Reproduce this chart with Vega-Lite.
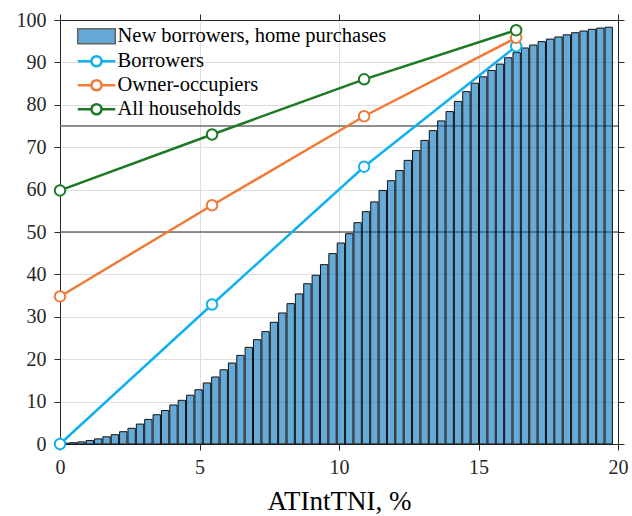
{
  "$schema": "https://vega.github.io/schema/vega-lite/v6.json",
  "autosize": {"type": "none"},
  "width": 558,
  "height": 424,
  "padding": {"left": 60, "top": 20, "right": 14, "bottom": 72},
  "background": "white",
  "config": {
    "view": {"stroke": "#262626", "strokeWidth": 1},
    "axis": {
      "labelFont": "Liberation Serif",
      "titleFont": "Liberation Serif",
      "labelFontSize": 20,
      "labelColor": "#262626",
      "domainColor": "#262626",
      "tickColor": "#262626",
      "tickSize": 6,
      "gridColor": "#dedede",
      "gridWidth": 1
    },
    "legend": {
      "orient": "none", "title": null, "padding": 0,
      "labelFont": "Liberation Serif", "labelFontSize": 20.5, "labelColor": "black", "labelLimit": 400,
      "symbolSize": 225, "labelOffset": 22, "rowPadding": 3
    }
  },
  "resolve": {"axis": {"x": "independent", "y": "independent"}},
  "layer": [
    {
      "data": {"values": [{"ref": 50}, {"ref": 75}]},
      "mark": {"type": "rule", "color": "#6a6a6a", "strokeWidth": 1.3},
      "encoding": {
        "y": {"field": "ref", "type": "quantitative", "axis": null, "scale": {"domain": [0, 100], "nice": false}}
      }
    },
    {
      "data": {"values": [
        {"lo": 0.0, "hi": 0.3, "pct": 0.2, "series": "New borrowers, home purchases"},
        {"lo": 0.3, "hi": 0.6, "pct": 0.3, "series": "New borrowers, home purchases"},
        {"lo": 0.6, "hi": 0.9, "pct": 0.5, "series": "New borrowers, home purchases"},
        {"lo": 0.9, "hi": 1.2, "pct": 0.8, "series": "New borrowers, home purchases"},
        {"lo": 1.2, "hi": 1.5, "pct": 1.2, "series": "New borrowers, home purchases"},
        {"lo": 1.5, "hi": 1.8, "pct": 1.7, "series": "New borrowers, home purchases"},
        {"lo": 1.8, "hi": 2.1, "pct": 2.2, "series": "New borrowers, home purchases"},
        {"lo": 2.1, "hi": 2.4, "pct": 2.9, "series": "New borrowers, home purchases"},
        {"lo": 2.4, "hi": 2.7, "pct": 3.7, "series": "New borrowers, home purchases"},
        {"lo": 2.7, "hi": 3.0, "pct": 4.7, "series": "New borrowers, home purchases"},
        {"lo": 3.0, "hi": 3.3, "pct": 5.8, "series": "New borrowers, home purchases"},
        {"lo": 3.3, "hi": 3.6, "pct": 6.9, "series": "New borrowers, home purchases"},
        {"lo": 3.6, "hi": 3.9, "pct": 7.9, "series": "New borrowers, home purchases"},
        {"lo": 3.9, "hi": 4.2, "pct": 9.2, "series": "New borrowers, home purchases"},
        {"lo": 4.2, "hi": 4.5, "pct": 10.3, "series": "New borrowers, home purchases"},
        {"lo": 4.5, "hi": 4.8, "pct": 11.5, "series": "New borrowers, home purchases"},
        {"lo": 4.8, "hi": 5.1, "pct": 12.8, "series": "New borrowers, home purchases"},
        {"lo": 5.1, "hi": 5.4, "pct": 14.4, "series": "New borrowers, home purchases"},
        {"lo": 5.4, "hi": 5.7, "pct": 15.8, "series": "New borrowers, home purchases"},
        {"lo": 5.7, "hi": 6.0, "pct": 17.5, "series": "New borrowers, home purchases"},
        {"lo": 6.0, "hi": 6.3, "pct": 19.1, "series": "New borrowers, home purchases"},
        {"lo": 6.3, "hi": 6.6, "pct": 20.9, "series": "New borrowers, home purchases"},
        {"lo": 6.6, "hi": 6.9, "pct": 22.8, "series": "New borrowers, home purchases"},
        {"lo": 6.9, "hi": 7.2, "pct": 24.6, "series": "New borrowers, home purchases"},
        {"lo": 7.2, "hi": 7.5, "pct": 26.5, "series": "New borrowers, home purchases"},
        {"lo": 7.5, "hi": 7.8, "pct": 28.7, "series": "New borrowers, home purchases"},
        {"lo": 7.8, "hi": 8.1, "pct": 30.9, "series": "New borrowers, home purchases"},
        {"lo": 8.1, "hi": 8.4, "pct": 33.1, "series": "New borrowers, home purchases"},
        {"lo": 8.4, "hi": 8.7, "pct": 35.4, "series": "New borrowers, home purchases"},
        {"lo": 8.7, "hi": 9.0, "pct": 37.8, "series": "New borrowers, home purchases"},
        {"lo": 9.0, "hi": 9.3, "pct": 39.8, "series": "New borrowers, home purchases"},
        {"lo": 9.3, "hi": 9.6, "pct": 42.3, "series": "New borrowers, home purchases"},
        {"lo": 9.6, "hi": 9.9, "pct": 44.9, "series": "New borrowers, home purchases"},
        {"lo": 9.9, "hi": 10.2, "pct": 47.4, "series": "New borrowers, home purchases"},
        {"lo": 10.2, "hi": 10.5, "pct": 49.6, "series": "New borrowers, home purchases"},
        {"lo": 10.5, "hi": 10.8, "pct": 52.2, "series": "New borrowers, home purchases"},
        {"lo": 10.8, "hi": 11.1, "pct": 54.8, "series": "New borrowers, home purchases"},
        {"lo": 11.1, "hi": 11.4, "pct": 57.1, "series": "New borrowers, home purchases"},
        {"lo": 11.4, "hi": 11.7, "pct": 59.8, "series": "New borrowers, home purchases"},
        {"lo": 11.7, "hi": 12.0, "pct": 62.1, "series": "New borrowers, home purchases"},
        {"lo": 12.0, "hi": 12.3, "pct": 64.5, "series": "New borrowers, home purchases"},
        {"lo": 12.3, "hi": 12.6, "pct": 66.9, "series": "New borrowers, home purchases"},
        {"lo": 12.6, "hi": 12.9, "pct": 69.2, "series": "New borrowers, home purchases"},
        {"lo": 12.9, "hi": 13.2, "pct": 71.6, "series": "New borrowers, home purchases"},
        {"lo": 13.2, "hi": 13.5, "pct": 73.9, "series": "New borrowers, home purchases"},
        {"lo": 13.5, "hi": 13.8, "pct": 76.2, "series": "New borrowers, home purchases"},
        {"lo": 13.8, "hi": 14.1, "pct": 78.4, "series": "New borrowers, home purchases"},
        {"lo": 14.1, "hi": 14.4, "pct": 80.8, "series": "New borrowers, home purchases"},
        {"lo": 14.4, "hi": 14.7, "pct": 83.1, "series": "New borrowers, home purchases"},
        {"lo": 14.7, "hi": 15.0, "pct": 85.1, "series": "New borrowers, home purchases"},
        {"lo": 15.0, "hi": 15.3, "pct": 86.6, "series": "New borrowers, home purchases"},
        {"lo": 15.3, "hi": 15.6, "pct": 88.1, "series": "New borrowers, home purchases"},
        {"lo": 15.6, "hi": 15.9, "pct": 89.6, "series": "New borrowers, home purchases"},
        {"lo": 15.9, "hi": 16.2, "pct": 91.1, "series": "New borrowers, home purchases"},
        {"lo": 16.2, "hi": 16.5, "pct": 92.3, "series": "New borrowers, home purchases"},
        {"lo": 16.5, "hi": 16.8, "pct": 93.4, "series": "New borrowers, home purchases"},
        {"lo": 16.8, "hi": 17.1, "pct": 94.1, "series": "New borrowers, home purchases"},
        {"lo": 17.1, "hi": 17.4, "pct": 94.9, "series": "New borrowers, home purchases"},
        {"lo": 17.4, "hi": 17.7, "pct": 95.5, "series": "New borrowers, home purchases"},
        {"lo": 17.7, "hi": 18.0, "pct": 96.0, "series": "New borrowers, home purchases"},
        {"lo": 18.0, "hi": 18.3, "pct": 96.5, "series": "New borrowers, home purchases"},
        {"lo": 18.3, "hi": 18.6, "pct": 97.0, "series": "New borrowers, home purchases"},
        {"lo": 18.6, "hi": 18.9, "pct": 97.4, "series": "New borrowers, home purchases"},
        {"lo": 18.9, "hi": 19.2, "pct": 97.8, "series": "New borrowers, home purchases"},
        {"lo": 19.2, "hi": 19.5, "pct": 98.1, "series": "New borrowers, home purchases"},
        {"lo": 19.5, "hi": 19.8, "pct": 98.3, "series": "New borrowers, home purchases"}
      ]},
      "mark": {"type": "bar", "fillOpacity": 0.6, "stroke": "#111111", "strokeWidth": 1},
      "encoding": {
        "x": {"field": "lo", "type": "quantitative", "bin": "binned", "scale": {"domain": [0, 20], "nice": false},
          "axis": {"orient": "bottom", "values": [0, 5, 10, 15, 20], "grid": true, "title": "ATIntTNI, %", "titleFont": "Liberation Serif", "titleFontSize": 27, "titleFontWeight": "normal", "titleColor": "black", "titlePadding": 11, "labelFont": "Liberation Serif", "labelFontSize": 20, "labelPadding": 7, "labelFlush": false}},
        "x2": {"field": "hi"},
        "y": {"field": "pct", "type": "quantitative", "scale": {"domain": [0, 100], "nice": false},
          "axis": {"orient": "left", "values": [0, 10, 20, 30, 40, 50, 60, 70, 80, 90, 100], "grid": true, "title": null, "labelFont": "Liberation Serif", "labelFontSize": 20, "labelPadding": 8, "labelFlush": false}},
        "fill": {"field": "series", "type": "nominal",
          "scale": {"domain": ["New borrowers, home purchases"], "range": ["#0072bd"]},
          "legend": {"orient": "none", "legendX": 15, "legendY": 6, "title": null,
            "symbolType": "M-1,-1H4V1H-1Z", "symbolOpacity": 0.6, "symbolStrokeColor": "#000000", "symbolStrokeWidth": 1.6}}
      }
    },
    {
      "data": {"values": [
        {"series": "Borrowers", "x": 0, "y": 0},
        {"series": "Borrowers", "x": 5.45, "y": 32.9},
        {"series": "Borrowers", "x": 10.9, "y": 65.4},
        {"series": "Borrowers", "x": 16.35, "y": 93.8},
        {"series": "Owner-occupiers", "x": 0, "y": 34.8},
        {"series": "Owner-occupiers", "x": 5.45, "y": 56.3},
        {"series": "Owner-occupiers", "x": 10.9, "y": 77.3},
        {"series": "Owner-occupiers", "x": 16.35, "y": 95.8},
        {"series": "All households", "x": 0, "y": 59.8},
        {"series": "All households", "x": 5.45, "y": 73.0},
        {"series": "All households", "x": 10.9, "y": 86.0},
        {"series": "All households", "x": 16.35, "y": 97.6}
      ]},
      "mark": {"type": "line", "strokeWidth": 2.5, "point": {"filled": false, "fill": "white", "size": 110, "strokeWidth": 2}},
      "encoding": {
        "x": {"field": "x", "type": "quantitative", "scale": {"domain": [0, 20], "nice": false},
          "axis": {"orient": "top", "values": [0, 5, 10, 15, 20], "labels": false, "grid": false, "title": null}},
        "y": {"field": "y", "type": "quantitative", "scale": {"domain": [0, 100], "nice": false},
          "axis": {"orient": "right", "values": [0, 10, 20, 30, 40, 50, 60, 70, 80, 90, 100], "labels": false, "grid": false, "title": null}},
        "stroke": {"field": "series", "type": "nominal",
          "scale": {"domain": ["Borrowers", "Owner-occupiers", "All households"], "range": ["#12b1ee", "#ef7b37", "#1c7a24"]},
          "legend": {"orient": "none", "legendX": 15, "legendY": 31, "title": null,
            "symbolType": "M-1,0H0.83M2.17,0H4M0.83,0A0.67,0.67 0 1,1 2.17,0A0.67,0.67 0 1,1 0.83,0",
            "symbolFillColor": "white", "symbolStrokeWidth": 2.5}},
        "order": {"field": "x", "type": "quantitative"}
      }
    }
  ]
}
